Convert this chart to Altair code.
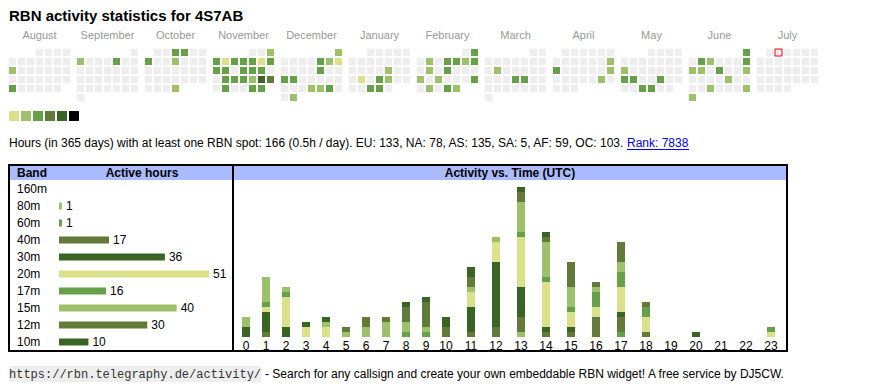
import altair as alt
import pandas as pd

TITLE = "RBN activity statistics for 4S7AB"
MONTHS = ["August", "September", "October", "November", "December", "January",
          "February", "March", "April", "May", "June", "July"]
PERIOD_START = "2024-08-01"
PERIOD_END = "2025-07-31"
TODAY = "2025-07-02"

# active days per month and their activity level (1..6)
active_days = {
    "2024-08": [12, 26],
    "2024-09": [2, 6],
    "2024-10": [3, 4, 7, 10, 31],
    "2024-11": [3, 4, 5, 6, 7, 8, 9, 10, 11, 12, 14, 15, 16, 19, 20, 21, 22, 23, 24, 26, 29, 30],
    "2024-12": [1, 6, 7, 8, 13, 16, 17, 26, 27, 28, 31],
    "2025-01": [17, 21, 23, 24, 29, 30],
    "2025-02": [2, 4, 6, 7, 8, 9, 11, 13, 17, 19, 23, 25, 27, 28],
    "2025-03": [11, 20, 21],
    "2025-04": [13, 14, 20, 26],
    "2025-05": [12, 19, 20, 23, 28, 29],
    "2025-06": [1, 3, 4, 8, 9, 10, 12, 15, 20, 25, 29, 30],
}
active_levels = {
    "2024-08": [2, 3],
    "2024-09": [2, 3],
    "2024-10": [3, 3, 3, 2, 2],
    "2024-11": [2, 3, 1, 3, 3, 3, 1, 3, 3, 3, 3, 3, 3, 3, 3, 3, 2, 5, 4, 3, 3, 3],
    "2024-12": [2, 3, 2, 1, 3, 3, 3, 2, 2, 3, 2],
    "2025-01": [2, 1, 3, 2, 3, 3],
    "2025-02": [3, 2, 3, 3, 2, 3, 2, 3, 2, 2, 3, 2, 3, 2],
    "2025-03": [2, 3, 3],
    "2025-04": [2, 3, 2, 2],
    "2025-05": [2, 3, 3, 3, 3, 3],
    "2025-06": [3, 3, 2, 3, 2, 2, 3, 2, 2, 2, 2, 2],
}
LEVEL_COLORS = ["#eeeeee", "#dbe18a", "#9cc16a", "#66a048", "#647a3a", "#3a6426", "#000000"]
LEGEND_LEVELS = [1, 2, 3, 4, 5, 6]

INFO_TEXT = ("Hours (in 365 days) with at least one RBN spot: 166 (0.5h / day). "
             "EU: 133, NA: 78, AS: 135, SA: 5, AF: 59, OC: 103.")
RANK_TEXT = "Rank: 7838"
URL_TEXT = "https://rbn.telegraphy.de/activity/"
FOOT_TEXT = "- Search for any callsign and create your own embeddable RBN widget! A free service by DJ5CW."

bands = ["160m", "80m", "60m", "40m", "30m", "20m", "17m", "15m", "12m", "10m"]
band_hours = [0, 1, 1, 17, 36, 51, 16, 40, 30, 10]
BAND_COLORS = ["#dbe18a", "#9cc16a", "#66a048", "#647a3a", "#3a6426",
               "#dbe18a", "#66a048", "#9cc16a", "#647a3a", "#3a6426"]

hours = list(range(24))
h160 = [0] * 24
h80 = [0, 0, 0, 0, 0, 0, 0, 0, 0, 0, 0, 0, 0, 1, 0, 0, 0, 0, 0, 0, 0, 0, 0, 0]
h60 = [0, 0, 0, 0, 0, 0, 0, 0, 0, 0, 0, 0, 0, 0, 0, 0, 0, 1, 0, 0, 0, 0, 0, 0]
h40 = [0, 1, 0, 0, 0, 0, 0, 0, 0, 0, 0, 1, 2, 3, 1, 1, 4, 3, 1, 0, 0, 0, 0, 0]
h30 = [2, 4, 2, 0, 0, 0, 0, 0, 0, 0, 0, 5, 13, 6, 1, 1, 0, 1, 0, 0, 1, 0, 0, 0]
h20 = [0, 1, 6, 2, 2, 0, 0, 0, 0, 0, 0, 3, 4, 10, 9, 3, 2, 5, 3, 0, 0, 0, 0, 1]
h17 = [0, 1, 1, 0, 0, 0, 0, 0, 1, 1, 0, 0, 0, 1, 1, 1, 3, 3, 2, 0, 0, 0, 0, 1]
h15 = [2, 5, 1, 0, 1, 1, 2, 3, 2, 1, 0, 1, 1, 6, 7, 4, 1, 2, 0, 0, 0, 0, 0, 0]
h12 = [0, 0, 0, 0, 0, 1, 2, 1, 3, 5, 2, 2, 0, 2, 1, 5, 1, 4, 1, 0, 0, 0, 0, 0]
h10 = [0, 0, 0, 1, 1, 0, 0, 0, 1, 1, 2, 2, 0, 1, 1, 0, 0, 0, 0, 0, 0, 0, 0, 0]
hourly = [h160, h80, h60, h40, h30, h20, h17, h15, h12, h10]

SANS = "Liberation Sans"
MONO = "Liberation Mono"
FULLW = 830

# ---------------- calendar table ----------------
dates = pd.date_range(PERIOD_START, PERIOD_END, freq="D")
cal = pd.DataFrame({"date": dates})
cal["ym"] = cal["date"].dt.strftime("%Y-%m")
cal["iso"] = cal["date"].dt.strftime("%Y-%m-%d")
cal["month"] = cal["date"].dt.month_name()
cal["dow"] = cal["date"].dt.weekday
first_dow = cal["date"].dt.to_period("M").dt.start_time.dt.weekday
cal["wk"] = (cal["date"].dt.day - 1 + first_dow) // 7
lvl = {}
for ym, days in active_days.items():
    for d, l in zip(days, active_levels[ym]):
        lvl[f"{ym}-{d:02d}"] = l
cal["level"] = cal["iso"].map(lvl).fillna(0).astype(int)
cal = cal.drop(columns=["date"])

xcal = alt.X("dow:O", axis=None,
             scale=alt.Scale(domain=list(range(7)), paddingInner=2 / 9, paddingOuter=0))
ycal = alt.Y("wk:O", axis=None,
             scale=alt.Scale(domain=list(range(6)), paddingInner=2 / 9, paddingOuter=0))
cells = alt.Chart().mark_rect().encode(
    x=xcal, y=ycal,
    color=alt.Color("level:O", legend=None,
                    scale=alt.Scale(domain=list(range(7)), range=LEVEL_COLORS)),
)
today = alt.Chart().mark_rect(fillOpacity=0, stroke="#ff0000", strokeWidth=1).encode(
    x=xcal, y=ycal
).transform_filter(alt.datum.iso == TODAY)
calendar = alt.layer(cells, today, data=cal).properties(width=61, height=52).facet(
    column=alt.Column("month:N", sort=MONTHS, title=None,
                      header=alt.Header(labelColor="#999999", labelFontSize=11,
                                        labelFont=SANS, labelPadding=8)),
    spacing=7,
    bounds="flush",
)

# ---------------- title ----------------
one = pd.DataFrame({"t": [TITLE]})
title_chart = alt.Chart(one).mark_text(
    align="left", baseline="alphabetic", font=SANS, fontSize=15, fontWeight="bold", color="#000000"
).encode(text="t:N", x=alt.value(0), y=alt.value(12)).properties(width=FULLW, height=20)

# ---------------- legend swatches ----------------
legend_chart = alt.Chart(pd.DataFrame({"lv": LEGEND_LEVELS})).mark_rect().encode(
    x=alt.X("lv:O", axis=None, scale=alt.Scale(paddingInner=2 / 12, paddingOuter=0)),
    y=alt.value(8), y2=alt.value(18),
    color=alt.Color("lv:O", legend=None,
                    scale=alt.Scale(domain=list(range(7)), range=LEVEL_COLORS)),
).properties(width=70, height=26)

# ---------------- info line ----------------
info_chart = alt.layer(
    alt.Chart(pd.DataFrame({"t": [INFO_TEXT]})).mark_text(
        align="left", baseline="middle", font=SANS, fontSize=12, color="#000000"
    ).encode(text="t:N", x=alt.value(0), y=alt.value(12)),
    alt.Chart(pd.DataFrame({"t": [RANK_TEXT]})).mark_text(
        align="left", baseline="middle", font=SANS, fontSize=12, color="#0000ee"
    ).encode(text="t:N", x=alt.value(618), y=alt.value(12)),
    alt.Chart(pd.DataFrame({"t": [RANK_TEXT]})).mark_rule(color="#0000ee", strokeWidth=1).encode(
        x=alt.value(618), x2=alt.value(680), y=alt.value(18.5)),
).properties(width=FULLW, height=32)

# ---------------- band table ----------------
band_df = pd.DataFrame({"band": bands, "hours": band_hours, "idx": list(range(10))})
yband = alt.Y("band:N", axis=None,
              scale=alt.Scale(domain=bands, range=[15.5, 185.5],
                              paddingInner=10 / 17, paddingOuter=5 / 17))
xband = alt.X("hours:Q", axis=None,
              scale=alt.Scale(domain=[0, 51], range=[50, 200], nice=False, padding=0))
band_color = alt.Color("band:N", legend=None, scale=alt.Scale(domain=bands, range=BAND_COLORS))

BW, BH = 224, 186
hdr1 = pd.DataFrame({"a": ["Band"], "b": ["Active hours"]})
band_chart = alt.layer(
    alt.Chart(hdr1).mark_rect(color="#aabbff").encode(
        x=alt.value(1), x2=alt.value(BW - 1), y=alt.value(1), y2=alt.value(15)),
    alt.Chart(hdr1).mark_text(align="left", baseline="middle", font=SANS, fontSize=12,
                              fontWeight="bold", color="#000000").encode(
        text="a:N", x=alt.value(8), y=alt.value(8)),
    alt.Chart(hdr1).mark_text(align="center", baseline="middle", font=SANS, fontSize=12,
                              fontWeight="bold", color="#000000").encode(
        text="b:N", x=alt.value(133), y=alt.value(8)),
    alt.Chart(band_df).mark_text(align="left", baseline="middle", font=SANS, fontSize=12,
                                 color="#000000").encode(
        text="band:N", y=yband, x=alt.value(8)),
    alt.Chart(band_df).mark_bar().encode(
        x=xband, y=yband, color=band_color).transform_filter(alt.datum.hours > 0),
    alt.Chart(band_df).mark_text(align="left", baseline="middle", dx=4, font=SANS, fontSize=12,
                                 color="#000000").encode(
        x=xband, y=yband, text="hours:Q").transform_filter(alt.datum.hours > 0),
).properties(width=BW, height=BH, view=alt.ViewBackground(stroke="#000000", strokeWidth=2))

# ---------------- activity vs time ----------------
rows = []
for bi, (b, vals) in enumerate(zip(bands, hourly)):
    for h, v in zip(hours, vals):
        if v > 0:
            rows.append({"band": b, "idx": bi, "hour": h, "spots": v})
hour_df = pd.DataFrame(rows)

HW = 554
hx = alt.X("hour:Q", axis=None,
           scale=alt.Scale(domain=[0, 10, 23], range=[13, 213, 538],
                           zero=False, nice=False, padding=0))
hdr2 = pd.DataFrame({"t": ["Activity vs. Time (UTC)"]})
hour_chart = alt.layer(
    alt.Chart(hdr2).mark_rect(color="#aabbff").encode(
        x=alt.value(1), x2=alt.value(HW - 1), y=alt.value(1), y2=alt.value(15)),
    alt.Chart(hdr2).mark_text(align="center", baseline="middle", font=SANS, fontSize=12,
                              fontWeight="bold", color="#000000").encode(
        text="t:N", x=alt.value(HW / 2), y=alt.value(8)),
    alt.Chart(hour_df).mark_bar(size=8, orient="vertical").encode(
        x=hx,
        y=alt.Y("spots:Q", stack="zero", axis=None,
                scale=alt.Scale(domain=[0, 30], range=[172, 22], nice=False)),
        color=band_color,
        order=alt.Order("idx:Q", sort="ascending"),
    ),
    alt.Chart(pd.DataFrame({"hour": hours})).mark_text(
        align="center", baseline="middle", font=SANS, fontSize=12, color="#000000"
    ).encode(x=hx, y=alt.value(181), text="hour:Q"),
).properties(width=HW, height=BH, view=alt.ViewBackground(stroke="#000000", strokeWidth=2))

tables = alt.hconcat(band_chart, hour_chart, spacing=0, bounds="flush").resolve_scale(
    color="independent", x="independent", y="independent")

# ---------------- footer ----------------
foot = pd.DataFrame({"u": [URL_TEXT], "f": [FOOT_TEXT]})
footer_chart = alt.layer(
    alt.Chart(foot).mark_rect(color="#eeeeee").encode(
        x=alt.value(0), x2=alt.value(252), y=alt.value(12), y2=alt.value(28)),
    alt.Chart(foot).mark_text(align="left", baseline="middle", font=MONO, fontSize=12,
                              color="#333333").encode(text="u:N", x=alt.value(0), y=alt.value(20)),
    alt.Chart(foot).mark_text(align="left", baseline="middle", font=SANS, fontSize=12,
                              color="#000000").encode(text="f:N", x=alt.value(256), y=alt.value(20)),
).properties(width=FULLW, height=30)

chart = alt.vconcat(
    title_chart, calendar, legend_chart, info_chart, tables, footer_chart, spacing=0
).resolve_scale(color="independent").properties(
    padding=0, background="#ffffff"
).configure_view(stroke="transparent")

chart.save("out.html", embed_options={"renderer": "svg", "actions": False})
